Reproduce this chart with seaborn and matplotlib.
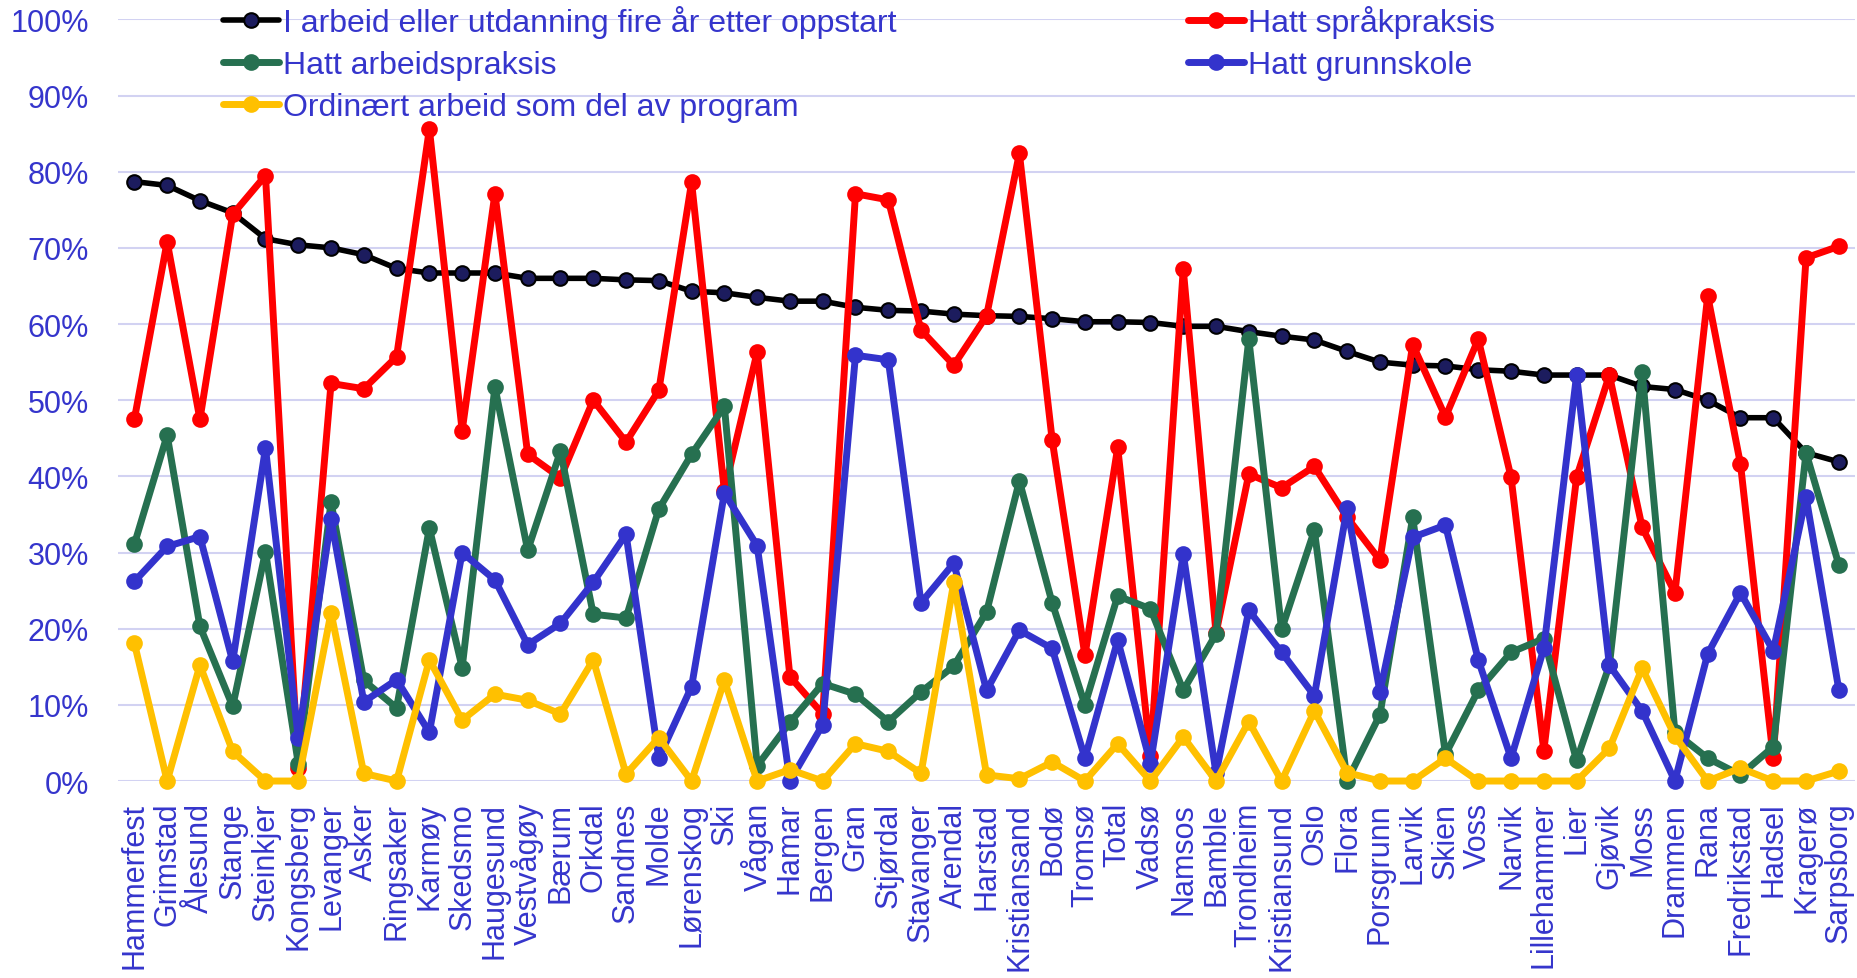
import numpy as np
import pandas as pd
import matplotlib
matplotlib.use('Agg')
import matplotlib.pyplot as plt
import seaborn as sns
from matplotlib.ticker import PercentFormatter

# Categories (municipalities), in chart order
cities = ['Hammerfest', 'Grimstad', 'Ålesund', 'Stange', 'Steinkjer', 'Kongsberg', 'Levanger',
          'Asker', 'Ringsaker', 'Karmøy', 'Skedsmo', 'Haugesund', 'Vestvågøy', 'Bærum', 'Orkdal',
          'Sandnes', 'Molde', 'Lørenskog', 'Ski', 'Vågan', 'Hamar', 'Bergen', 'Gran', 'Stjørdal',
          'Stavanger', 'Arendal', 'Harstad', 'Kristiansand', 'Bodø', 'Tromsø', 'Total', 'Vadsø',
          'Namsos', 'Bamble', 'Trondheim', 'Kristiansund', 'Oslo', 'Flora', 'Porsgrunn', 'Larvik',
          'Skien', 'Voss', 'Narvik', 'Lillehammer', 'Lier', 'Gjøvik', 'Moss', 'Drammen', 'Rana',
          'Fredrikstad', 'Hadsel', 'Kragerø', 'Sarpsborg']

# Series values (percent)
arbeid_utdanning = [78.7, 78.2, 76.2, 74.6, 71.2, 70.4, 70.0, 69.1, 67.3,
                    66.7, 66.7, 66.7, 66.0, 66.0, 66.0, 65.8, 65.7, 64.3,
                    64.1, 63.5, 63.0, 63.0, 62.2, 61.8, 61.7, 61.3, 61.1,
                    61.0, 60.7, 60.3, 60.3, 60.2, 59.7, 59.7, 59.0, 58.4,
                    57.9, 56.4, 55.0, 54.6, 54.5, 54.0, 53.8, 53.3, 53.3,
                    53.3, 51.8, 51.4, 50.0, 47.7, 47.7, 43.1, 41.9]
sprakpraksis = [47.5, 70.8, 47.5, 74.4, 79.5, 1.7, 52.2, 51.5, 55.7,
                85.6, 46.0, 77.1, 42.9, 39.8, 50.0, 44.5, 51.3, 78.6,
                38.1, 56.3, 13.7, 8.8, 77.1, 76.3, 59.2, 54.6, 61.1,
                82.4, 44.8, 16.5, 43.8, 3.3, 67.2, 19.4, 40.3, 38.5,
                41.3, 34.6, 29.0, 57.3, 47.8, 58.0, 39.9, 4.0, 39.9,
                53.3, 33.3, 24.7, 63.7, 41.6, 3.0, 68.7, 70.2]
arbeidspraksis = [31.1, 45.4, 20.3, 9.8, 30.1, 2.3, 36.6, 13.2, 9.6,
                  33.2, 14.9, 51.7, 30.3, 43.3, 21.9, 21.4, 35.7, 42.9,
                  49.2, 2.0, 7.7, 12.8, 11.4, 7.8, 11.7, 15.1, 22.2,
                  39.4, 23.4, 10.0, 24.3, 22.6, 11.9, 19.3, 58.0, 19.9,
                  32.9, 0.0, 8.7, 34.6, 3.5, 11.9, 16.9, 18.7, 2.7,
                  15.2, 53.7, 6.4, 3.0, 0.8, 4.5, 43.1, 28.4]
grunnskole = [26.2, 30.8, 32.1, 15.7, 43.7, 5.7, 34.4, 10.4, 13.3,
              6.4, 30.0, 26.4, 17.9, 20.7, 26.1, 32.4, 3.0, 12.4,
              37.8, 30.9, 0.0, 7.4, 55.9, 55.3, 23.4, 28.6, 11.9,
              19.8, 17.4, 3.0, 18.5, 2.3, 29.8, 1.0, 22.4, 16.9,
              11.2, 35.9, 11.7, 32.0, 33.6, 15.9, 3.0, 17.4, 53.3,
              15.2, 9.2, 0.0, 16.7, 24.7, 17.1, 37.3, 12.0]
ordinaert = [18.1, 0.0, 15.2, 3.9, 0.0, 0.0, 22.1, 1.0, 0.0,
             15.9, 8.0, 11.4, 10.6, 8.8, 15.9, 0.9, 5.7, 0.0,
             13.2, 0.0, 1.5, 0.0, 4.9, 3.9, 1.0, 26.1, 0.8,
             0.3, 2.5, 0.0, 4.9, 0.0, 5.8, 0.0, 7.8, 0.0,
             9.2, 1.1, 0.0, 0.0, 3.0, 0.0, 0.0, 0.0, 0.0,
             4.3, 14.8, 5.9, 0.0, 1.7, 0.0, 0.0, 1.3]

labels = ['I arbeid eller utdanning fire år etter oppstart', 'Hatt språkpraksis',
          'Hatt arbeidspraksis', 'Hatt grunnskole', 'Ordinært arbeid som del av program']

df = pd.DataFrame({'pos': np.arange(len(cities)),
                   'arbeid': arbeid_utdanning, 'sprak': sprakpraksis,
                   'arbpraksis': arbeidspraksis, 'grunnskole': grunnskole,
                   'ordinaert': ordinaert})

sns.set_style("white")
plt.rcParams['font.family'] = ['Liberation Sans', 'DejaVu Sans']

text_blue = '#3535CC'
grid_col = '#D2D2F2'

fig = plt.figure(figsize=(18.58, 9.79), dpi=100)
ax = fig.add_axes([0.0635, 0.2012, 0.935, 0.778])

# (column, line colour, marker face, marker edge, line width)
styles = [('arbeid', '#000000', '#1C1C5E', '#000000', 4.0),
          ('sprak', '#FF0000', '#FF0000', '#FF0000', 5.0),
          ('arbpraksis', '#267050', '#267050', '#267050', 5.0),
          ('grunnskole', '#3333CC', '#3333CC', '#3333CC', 5.0),
          ('ordinaert', '#FFC000', '#FFC000', '#FFC000', 5.0)]

handles = []
for (col, color, face, edge, lw), label in zip(styles, labels):
    sns.lineplot(data=df, x='pos', y=col, ax=ax, color=color, lw=lw,
                 marker='o', markersize=10.5, markerfacecolor=face,
                 markeredgecolor=edge, markeredgewidth=1.5, clip_on=False,
                 label=label, legend=False, zorder=3)
    handles.append(ax.lines[-1])

ax.set_xlim(-0.5, len(cities) - 0.5)
ax.set_ylim(0, 100)
ax.set_yticks(np.arange(0, 101, 10))
ax.yaxis.set_major_formatter(PercentFormatter(100, decimals=0))
ax.set_xticks(df['pos'])
ax.set_xticklabels(cities, rotation=90, va='top', ha='center')
ax.tick_params(axis='both', length=0, labelsize=22, labelcolor=text_blue)
ax.tick_params(axis='x', pad=15)
ax.tick_params(axis='y', pad=21)
ax.set_xlabel('')
ax.set_ylabel('')
ax.yaxis.grid(True, color=grid_col, lw=1.5)
ax.xaxis.grid(False)
ax.set_axisbelow(True)
for s in ax.spines.values():
    s.set_visible(False)

leg_kw = dict(loc='upper left', bbox_transform=fig.transFigure, frameon=False,
              fontsize=23, labelcolor=text_blue, handlelength=1.75,
              handletextpad=0.12, labelspacing=0.38, borderpad=0, borderaxespad=0)
leg1 = ax.legend(handles=[handles[0], handles[2], handles[4]],
                 labels=[labels[0], labels[2], labels[4]],
                 bbox_to_anchor=(0.12, 0.994), **leg_kw)
ax.add_artist(leg1)
ax.legend(handles=[handles[1], handles[3]], labels=[labels[1], labels[3]],
          bbox_to_anchor=(0.6394, 0.994), **leg_kw)

plt.savefig('out.png', dpi=100)
